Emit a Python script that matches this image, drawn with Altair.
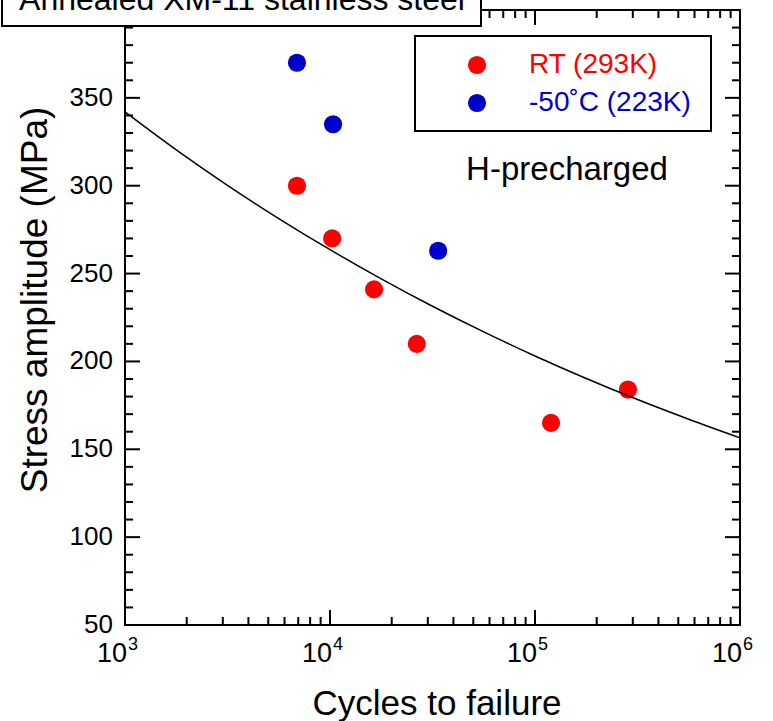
import altair as alt
import pandas as pd

# ---- data ----
rt_cycles = [6900, 10250, 16400, 26500, 119700, 284000]
rt_stress = [300, 270, 241, 210, 165, 184]
lt_cycles = [6900, 10350, 33700]
lt_stress = [370, 335, 263]

fit_cycles = [1000, 1778, 3162, 5623, 10000, 17783, 31623, 56234,
              100000, 177828, 316228, 562341, 1000000]
fit_stress = [342, 320.4, 300.2, 281.3, 263.6, 247.0, 231.4, 216.8,
              203.1, 190.3, 178.3, 167.1, 156.5]

series_names = ["RT (293K)", "-50˚C (223K)"]
series_colors = ["#ff0000", "#0000cc"]

y_labels = [50, 100, 150, 200, 250, 300, 350]
y_major = [50, 100, 150, 200, 250, 300, 350, 400]
y_minor = [v for v in range(60, 400, 10) if v % 50 != 0]
x_decades = [3, 4, 5, 6]
x_major = [1000, 10000, 100000, 1000000]
x_minor = [m * 10 ** d for d in (3, 4, 5) for m in range(2, 10)]

title_text = "Annealed XM-11 stainless steel"
note_text = "H-precharged"
x_title = "Cycles to failure"
y_title = "Stress amplitude (MPa)"

W, H = 615, 615
TOP = 10
LEFT = 125
FONT = "Liberation Sans"

xscale = alt.Scale(type="log", domain=[1000, 1000000], nice=False)
yscale = alt.Scale(domain=[50, 400], nice=False, zero=False)

pts = pd.DataFrame({
    "cycles": rt_cycles + lt_cycles,
    "stress": rt_stress + lt_stress,
    "series": [series_names[0]] * len(rt_cycles) + [series_names[1]] * len(lt_cycles),
})
fit = pd.DataFrame({"cycles": fit_cycles, "stress": fit_stress})

X = lambda f: alt.X(f, scale=xscale, axis=None)
Y = lambda f: alt.Y(f, scale=yscale, axis=None)

points = alt.Chart(pts).mark_circle(size=330, opacity=1).encode(
    x=X("cycles:Q"), y=Y("stress:Q"),
    color=alt.Color("series:N", scale=alt.Scale(domain=series_names, range=series_colors),
                    legend=None),
)

curve = alt.Chart(fit).mark_line(color="black", strokeWidth=1.5, interpolate="monotone").encode(
    x=X("cycles:Q"), y=Y("stress:Q"),
)

ymaj = pd.DataFrame({"v": y_major})
ymin = pd.DataFrame({"v": y_minor})
xmaj = pd.DataFrame({"v": x_major})
xmin = pd.DataFrame({"v": x_minor})

def yticks(df, length):
    left = alt.Chart(df).mark_rule(color="black", strokeWidth=2).encode(
        y=Y("v:Q"), x=alt.value(0), x2=alt.value(length))
    right = alt.Chart(df).mark_rule(color="black", strokeWidth=2).encode(
        y=Y("v:Q"), x=alt.value(W - length), x2=alt.value(W))
    return [left, right]

def xticks(df, length):
    bottom = alt.Chart(df).mark_rule(color="black", strokeWidth=2).encode(
        x=X("v:Q"), y=alt.value(H), y2=alt.value(H - length))
    top = alt.Chart(df).mark_rule(color="black", strokeWidth=2).encode(
        x=X("v:Q"), y=alt.value(0), y2=alt.value(length))
    return [bottom, top]

tick_layers = yticks(ymaj, 15) + yticks(ymin, 8) + xticks(xmaj, 15) + xticks(xmin, 8)

# y tick labels and title
yl = pd.DataFrame({"v": y_labels, "lab": [str(v) for v in y_labels]})
ylab = alt.Chart(yl).mark_text(font=FONT, fontSize=26, align="right", baseline="middle",
                               color="black").encode(
    y=Y("v:Q"), x=alt.value(113 - LEFT), text="lab:N")
ytitle = alt.Chart(pd.DataFrame({"t": [y_title]})).mark_text(
    font=FONT, fontSize=37, align="center", baseline="middle", angle=270, color="black").encode(
    x=alt.value(36 - LEFT), y=alt.value(300 - TOP), text="t:N")

# x tick labels and title
xl = pd.DataFrame({"v": x_major, "base": ["10"] * 4, "exp": [str(d) for d in x_decades]})
xlab_base = alt.Chart(xl).mark_text(font=FONT, fontSize=27, align="right", baseline="alphabetic",
                                    dx=2, color="black").encode(
    x=X("v:Q"), y=alt.value(662 - TOP), text="base:N")
xlab_exp = alt.Chart(xl).mark_text(font=FONT, fontSize=18, align="left", baseline="alphabetic",
                                   dx=3, color="black").encode(
    x=X("v:Q"), y=alt.value(650 - TOP), text="exp:N")
xtitle = alt.Chart(pd.DataFrame({"t": [x_title]})).mark_text(
    font=FONT, fontSize=35, align="center", baseline="alphabetic", color="black").encode(
    x=alt.value(437 - LEFT), y=alt.value(715 - TOP), text="t:N")

# legend box
one = pd.DataFrame({"t": [title_text]})
legend_box = alt.Chart(one).mark_rect(fill="white", stroke="black", strokeWidth=2).encode(
    x=alt.value(415 - LEFT), x2=alt.value(711 - LEFT), y=alt.value(36 - TOP), y2=alt.value(131 - TOP))
legend_layers = []
for i, (nm, col) in enumerate(zip(series_names, series_colors)):
    ypix = [65, 103][i] - TOP
    row = pd.DataFrame({"name": [nm]})
    legend_layers.append(alt.Chart(row).mark_circle(size=330, opacity=1, color=col).encode(
        x=alt.value(477 - LEFT), y=alt.value(ypix)))
    legend_layers.append(alt.Chart(row).mark_text(
        font=FONT, fontSize=28, align="left", baseline="middle", color=col).encode(
        x=alt.value(529 - LEFT), y=alt.value(ypix), text="name:N"))

note = alt.Chart(pd.DataFrame({"t": [note_text]})).mark_text(
    font=FONT, fontSize=33, align="center", baseline="middle", color="black").encode(
    x=alt.value(567 - LEFT), y=alt.value(170 - TOP), text="t:N")

title_box = alt.Chart(one).mark_rect(fill="white", stroke="black", strokeWidth=2).encode(
    x=alt.value(2 - LEFT), x2=alt.value(481 - LEFT), y=alt.value(-40), y2=alt.value(26 - TOP))
title_txt = alt.Chart(one).mark_text(font=FONT, fontSize=32, align="center",
                                     baseline="alphabetic", color="black").encode(
    x=alt.value(242 - LEFT), y=alt.value(10 - TOP), text="t:N")

chart = alt.layer(
    points, curve, *tick_layers, ylab, ytitle, xlab_base, xlab_exp, xtitle,
    legend_box, *legend_layers, note, title_box, title_txt,
).properties(
    width=W, height=H,
    autosize=alt.AutoSizeParams(type="none"),
    padding={"left": LEFT, "top": TOP, "right": 773 - LEFT - W, "bottom": 721 - TOP - H},
    background="white",
).configure_view(stroke="black", strokeWidth=2)

chart.save("out.html", embed_options={"renderer": "svg", "actions": False})
